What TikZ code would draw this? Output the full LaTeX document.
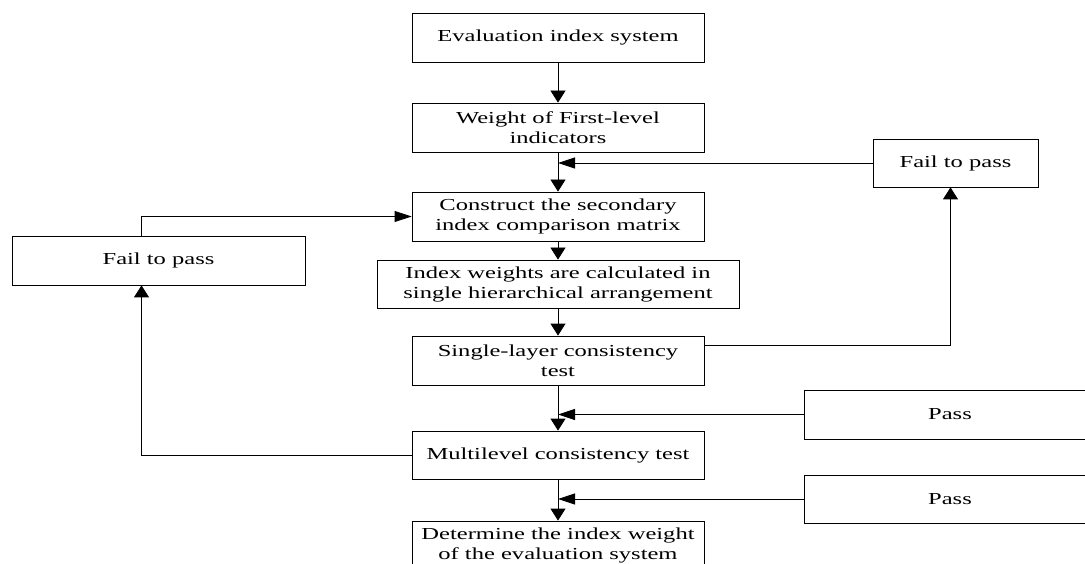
\documentclass[tikz,border=0pt]{standalone}
\usepackage{fontspec}
\setmainfont{Liberation Serif}[FakeStretch=1.46]
\usetikzlibrary{positioning}
\usetikzlibrary{arrows.meta}

\begin{document}
\begin{tikzpicture}[x=1pt,y=-1pt,
  stepbox/.style={draw, line width=0.8pt, minimum width=292pt, minimum height=49pt,
    align=center, inner sep=2pt, font=\fontsize{16.8}{20}\selectfont},
  flowdown/.style={line width=0.8pt, -{Triangle[length=12pt,width=15pt]}},
  flowside/.style={line width=0.8pt, -{Triangle[length=17pt,width=11pt]}}]

\useasboundingbox (0,0) rectangle (1085,564);

% main column
\node[stepbox] (eval) at (558,37.5) {Evaluation index system};
\node[stepbox] (first) at (558,127.5) {Weight of First-level\\indicators};
\node[stepbox] (matrix) at (558,216.5) {Construct the secondary\\index comparison matrix};
\node[stepbox, minimum width=362pt, minimum height=48pt] (single) at (558,284) {Index weights are calculated in\\single hierarchical arrangement};
\node[stepbox] (layer) at (558,360.5) {Single-layer consistency\\test};
\node[stepbox, minimum height=48pt] (multi) at (558,455) {Multilevel consistency test};
\node[stepbox] (final) at (558,545.5) {Determine the index weight\\of the evaluation system};

% side boxes
\node[stepbox, minimum width=165pt, minimum height=48pt] (failR) at (955.5,163) {Fail to pass};
\node[stepbox, minimum width=293pt] (failL) at (158.5,260.5) {Fail to pass};
\node[stepbox] (passA) at (950,414.5) {Pass};
\node[stepbox, minimum height=48pt] (passB) at (950,499) {Pass};

\foreach \a/\b in {eval/first, first/matrix, matrix/single, single/layer, layer/multi, multi/final}
  \draw[flowdown] (\a.south) -- (\b.north);

\draw[flowside] (failR.west) -- (failR.west -| first.south);
\draw[flowside] (passA.west) -- (passA.west -| layer.south);
\draw[flowside] (passB.west) -- (passB.west -| multi.south);

\draw[flowdown] ([yshift=-10pt]layer.north east) -| ([xshift=-5pt]failR.south);
\draw[flowside] ([xshift=-17pt]failL.north) |- (matrix.west);
\draw[flowdown] (multi.west) -| ([xshift=-17pt]failL.south);

\end{tikzpicture}
\end{document}
